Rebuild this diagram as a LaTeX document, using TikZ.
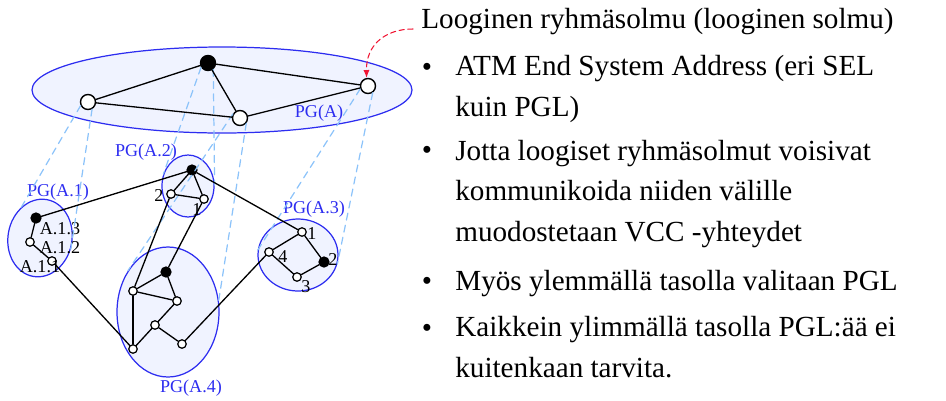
\documentclass[tikz,border=0pt]{standalone}
\usepackage{fontspec}
\setmainfont{Liberation Serif}
\usetikzlibrary{arrows.meta, shapes.geometric, positioning}

\newlength{\pxl}
\setlength{\pxl}{0.02cm}

\definecolor{pgblue}{RGB}{45,45,240}
\definecolor{pgfill}{RGB}{240,243,255}
\definecolor{projblue}{RGB}{140,195,250}
\definecolor{callred}{RGB}{240,20,50}

\begin{document}
\begin{tikzpicture}[x=0.02cm, y=-0.02cm, >=Latex, line cap=round, line join=round,
	pg/.style={ellipse, draw=pgblue, fill=pgfill, line width=0.7pt, inner sep=0pt},
	pglabel/.style={text=pgblue, font=\fontsize{10.3}{12}\selectfont, inner sep=0pt},
	numlabel/.style={font=\fontsize{10.3}{12}\selectfont, inner sep=0pt},
	topnode/.style={circle, draw, fill=white, line width=0.8pt, minimum size=15\pxl, inner sep=0pt},
	topleader/.style={circle, draw, fill=black, line width=0.8pt, minimum size=15\pxl, inner sep=0pt},
	subnode/.style={circle, draw, fill=white, line width=0.7pt, minimum size=8.5\pxl, inner sep=0pt},
	subleader/.style={circle, draw, fill=black, line width=0.7pt, minimum size=10\pxl, inner sep=0pt},
	link/.style={line width=0.75pt},
	proj/.style={draw=projblue, line width=0.7pt, dash pattern=on 4pt off 3pt},
	itemtext/.style={font=\fontsize{16.6}{23}\selectfont, align=left, inner sep=0pt, anchor=base west}]
	
	\useasboundingbox (0,0) rectangle (946,400);
	
	% ===============================
	% ====== PEER GROUP ELLIPSES ====
	% ===============================
	
	% ---- top level: logical group nodes ----
	\node[pg, minimum width=380\pxl, minimum height=86\pxl] (pgA) at (222,90) {};
	\node[pglabel] (labA) at (319,113) {PG(A)};
	
	% ---- lower level peer groups ----
	\node[pg, rotate=-10, minimum width=64\pxl, minimum height=78\pxl] (pgA1) at (40,238) {};
	\node[pg, minimum width=52\pxl, minimum height=62\pxl] (pgA2) at (188,186) {};
	\node[pg, minimum width=80\pxl, minimum height=72\pxl] (pgA3) at (298,255) {};
	\node[pg, minimum width=102\pxl, minimum height=130\pxl] (pgA4) at (168,312) {};
	
	\node[pglabel] (labA1) at (58,192) {PG(A.1)};
	\node[pglabel] (labA2) at (146,152) {PG(A.2)};
	\node[pglabel] (labA3) at (314,209) {PG(A.3)};
	\node[pglabel] (labA4) at (191,388) {PG(A.4)};
	
	% ===============================
	% =========== NODES =============
	% ===============================
	
	% top level (one per lower group, black = PGL)
	\node[topnode] (tL) at (88,102) {};
	\node[topleader] (tT) at (208,63) {};
	\node[topnode] (tM) at (240,118) {};
	\node[topnode] (tR) at (368,86) {};
	
	% PG(A.1)
	\node[subleader] (a13) at (36,218) {};
	\node[subnode] (a12) at (30,242) {};
	\node[subnode] (a11) at (52,261) {};
	\node[numlabel] (la13) at (60,229) {A.1.3};
	\node[numlabel] (la12) at (60,248) {A.1.2};
	\node[numlabel] (la11) at (40,267) {A.1.1};
	
	% PG(A.2)
	\node[subleader] (a2t) at (192,170) {};
	\node[subnode] (a22) at (171,194) {};
	\node[subnode] (a21) at (204,199) {};
	\node[numlabel] (la22) at (159,196) {2};
	\node[numlabel] (la21) at (197,210) {1};
	
	% PG(A.3)
	\node[subnode] (a31) at (302,232) {};
	\node[subnode] (a34) at (269,252) {};
	\node[subleader] (a32) at (324,262) {};
	\node[subnode] (a33) at (297,277) {};
	\node[numlabel] (la31) at (312,234) {1};
	\node[numlabel] (la34) at (283,257) {4};
	\node[numlabel] (la32) at (333,259) {2};
	\node[numlabel] (la33) at (306,287) {3};
	
	% PG(A.4)
	\node[subleader] (a4t) at (166,272) {};
	\node[subnode] (a4a) at (133,291) {};
	\node[subnode] (a4b) at (177,301) {};
	\node[subnode] (a4c) at (155,325) {};
	\node[subnode] (a4d) at (133,349) {};
	\node[subnode] (a4e) at (182,344) {};
	
	% ---- projections from logical nodes down to their groups ----
	\draw[proj] (tL.206) -- (pgA1.131);
	\draw[proj] (tL.-60) -- (pgA1.-10);
	\draw[proj] (tT.212) -- (pgA2.154);
	\draw[proj] (tT.-50) -- (pgA2.2);
	\draw[proj] (tM.150) -- (pgA4.134);
	\draw[proj] (tM.-40) -- (pgA4.13);
	\draw[proj] (tR.200) -- (pgA3.173);
	\draw[proj] (tR.-55) -- (pgA3.-13);
	
	% ===============================
	% =========== LINKS =============
	% ===============================
	
	% top level
	\draw[link] (tT) -- (tL);
	\draw[link] (tT) -- (tM);
	\draw[link] (tT) -- (tR);
	\draw[link] (tL) -- (tM);
	\draw[link] (tM) -- (tR);
	
	% inside the groups
	\draw[link] (a13) -- (a12);
	\draw[link] (a12) -- (a11);
	\draw[link] (a2t) -- (a22);
	\draw[link] (a2t) -- (a21);
	\draw[link] (a22) -- (a21);
	\draw[link] (a31) -- (a34);
	\draw[link] (a31) -- (a32);
	\draw[link] (a34) -- (a33);
	\draw[link] (a33) -- (a32);
	\draw[link] (a4a) -- (a4t);
	\draw[link] (a4a) -- (a4b);
	\draw[link] (a4t) -- (a4b);
	\draw[link] (a4b) -- (a4c);
	\draw[link] (a4c) -- (a4d);
	\draw[link] (a4a) -- (a4d);
	\draw[link] (a4c) -- (a4e);
	
	% between the groups
	\draw[link] (a13) -- (a2t);
	\draw[link] (a11) -- (a4d);
	\draw[link] (a22) -- (a4a);
	\draw[link] (a21) -- (a4t);
	\draw[link] (a2t) -- (a31);
	\draw[link] (a34) -- (a4e);
	
	% ===============================
	% ============ TEXT =============
	% ===============================
	
	\node[itemtext] (title) at (421,28) {Looginen ryhmäsolmu (looginen solmu)};
	
	% callout to the logical group node
	\coordinate (callout) at (413,29);
	\draw[callred, line width=0.6pt, dash pattern=on 3pt off 2pt, -{Latex[length=4.5pt,width=3.5pt]}]
	(callout) .. controls (385,29) and (366,45) .. (tR.100);
	
	% multi-line items are anchored at the baseline of their last line
	\node[itemtext, anchor=base] (dot1) at (427,76) {\textbullet};
	\node[itemtext] (item1) at (455,116) {ATM End System Address (eri SEL\\kuin PGL)};
	
	\node[itemtext, anchor=base] (dot2) at (427,159) {\textbullet};
	\node[itemtext] (item2) at (455,241) {Jotta loogiset ryhmäsolmut voisivat\\kommunikoida niiden välille\\muodostetaan VCC -yhteydet};
	
	\node[itemtext, anchor=base] (dot3) at (427,290) {\textbullet};
	\node[itemtext] (item3) at (455,290) {Myös ylemmällä tasolla valitaan PGL};
	
	\node[itemtext, anchor=base] (dot4) at (427,337) {\textbullet};
	\node[itemtext] (item4) at (455,377) {Kaikkein ylimmällä tasolla PGL:ää ei\\kuitenkaan tarvita.};
	
\end{tikzpicture}
\end{document}
